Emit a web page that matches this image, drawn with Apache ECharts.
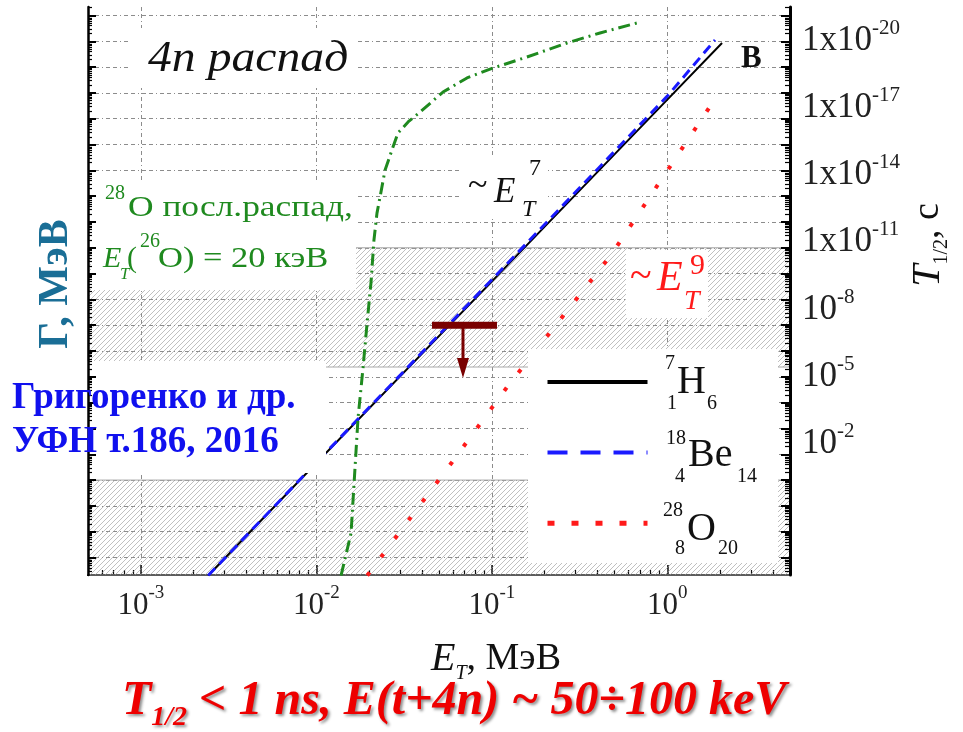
<!DOCTYPE html>
<html><head><meta charset="utf-8">
<script src="https://cdn.jsdelivr.net/npm/echarts@6/dist/echarts.min.js"></script>
<style>html,body{margin:0;padding:0;background:#fff}#c{width:963px;height:732px}</style>
</head><body><div id="c"></div>
<script>
// ---------- data ----------
const xTickValues = [1e-3, 1e-2, 1e-1, 1];              // E_T, MeV decades
const tLabelValues = [-20, -17, -14, -11, -8, -5, -2];  // log10 T1/2 (s) labels on right axis
// 7H (solid black)
const h7E = [0.00242, 0.01, 0.1, 1, 2.05];
const h7G = [2.0e-22, 4.6e-18, 5.0e-11, 5.5e-4, 0.086];
// 18Be (dashed blue)
const be18E = [0.00242, 0.01, 0.1, 1, 1.87];
const be18G = [2.0e-22, 4.8e-18, 5.8e-11, 7.5e-4, 0.112];
// 28O (dotted red)
const o28E = [0.0195, 0.0593, 0.1221, 0.4775, 1.87];
const o28G = [2.0e-22, 4.9e-18, 4.0e-15, 5.2e-10, 5.8e-4];
// 28O sequential decay (dash-dot green)
const seqE = [0.01383, 0.01577, 0.01728, 0.01845, 0.01946, 0.0205, 0.0213, 0.02216, 0.02306, 0.02462,
              0.02734, 0.0292, 0.03373, 0.03897, 0.05269, 0.07219, 0.1016, 0.1586, 0.268, 0.4135, 0.672];
const seqG = [2.0e-22, 8.7e-21, 2.5e-16, 2.2e-14, 1.2e-12, 4.7e-11, 2.0e-9, 2.2e-8, 9.2e-8, 1.0e-6,
              8.0e-6, 2.8e-5, 8.1e-5, 1.8e-4, 1.08e-3, 3.8e-3, 9.2e-3, 0.0246, 0.0859, 0.21, 0.512];
// upper limit marker
const limitE = [0.0456, 0.107];
const limitG = 1e-12;
const arrowE = 0.0685;
const arrowG = [1e-12, 2.2e-14];
// hatched (excluded) bands of Gamma
const band1 = [2.4e-14, 1e-9];
const band2 = [2.1e-22, 1e-18];

// ---------- axis ranges ----------
const xMin = 5e-4, xMax = 5;
const gMin = 2.1e-22, gMax = 2.13;
const tMin = -21.494, tMax = 3.843;

// tick positions (axis styling)
const majorG = []; for (let n = -21; n <= 0; n++) majorG.push(Math.pow(10, n));
const minorG = []; for (let n = -22; n <= 0; n++) for (let k = 2; k <= 9; k++) { const v = k * Math.pow(10, n); if (v > gMin && v < gMax) minorG.push(v); }
const minorX = []; for (let n = -4; n <= 0; n++) for (let k = 2; k <= 9; k++) { const v = k * Math.pow(10, n); if (v > xMin && v < xMax) minorX.push(v); }

const SERIF = 'Liberation Serif';
const pairs = (xs, ys) => xs.map((x, i) => [x, ys[i]]);

// hatch pattern
const hc = document.createElement('canvas'); hc.width = 5; hc.height = 5;
(function () { const g = hc.getContext('2d'); g.strokeStyle = 'rgba(150,150,150,0.6)'; g.lineWidth = 1;
  g.beginPath(); g.moveTo(0, 5); g.lineTo(5, 0); g.moveTo(-1, 1); g.lineTo(1, -1); g.moveTo(4, 6); g.lineTo(6, 4); g.stroke(); })();

function T(x, base, text, size, o) {
  o = o || {};
  return { type: 'text', z: 80, x: x, y: base - 0.305 * size, scaleX: o.sx || 1,
    style: { text: text, fontSize: size, fontFamily: SERIF, fontStyle: o.it ? 'italic' : 'normal',
      fontWeight: o.b ? 'bold' : 'normal', fill: o.c || '#111', align: 'left', verticalAlign: 'middle' } };
}
function R(x, y, w, h) { return { type: 'rect', z: 50, shape: { x: x, y: y, width: w, height: h }, style: { fill: '#fff' } }; }

const chart = echarts.init(document.getElementById('c'));
const GREEN = '#1f8a1f', RED = '#ff1a1a', BLUE = '#1a1aff', DRED = '#7a0000';
const gridStyle = { color: '#8c8c8c', width: 1, type: [4, 3, 4, 3, 1, 3] };

const option = {
  animation: false,
  grid: { left: 88, right: 173, top: 7, bottom: 157, containLabel: false, outerBoundsMode: 'none' },
  xAxis: [
    { type: 'log', logBase: 10, min: xMin, max: xMax, position: 'bottom',
      axisLine: { show: true, lineStyle: { color: '#111', width: 2 } },
      axisTick: { show: true, inside: true, length: 10, customValues: xTickValues, lineStyle: { color: '#111', width: 1.5 } },
      axisLabel: { show: true, customValues: xTickValues, margin: 9, color: '#222',
        formatter: v => '{b|10}{s|' + Math.round(Math.log10(v)) + '}',
        rich: { b: { fontSize: 31, fontFamily: SERIF, lineHeight: 44, color: '#222' },
                s: { fontSize: 19, fontFamily: SERIF, lineHeight: 18, verticalAlign: 'top', color: '#222' } } },
      splitLine: { show: true, lineStyle: gridStyle } },
    { type: 'log', logBase: 10, min: xMin, max: xMax, position: 'bottom',
      axisLine: { show: false }, axisLabel: { show: false }, splitLine: { show: false },
      axisTick: { show: true, inside: true, length: 5, customValues: minorX, lineStyle: { color: '#111', width: 1.2 } } },
    { type: 'log', logBase: 10, min: xMin, max: xMax, position: 'top',
      axisLine: { show: true, lineStyle: { color: '#111', width: 2 } }, axisTick: { show: false },
      axisLabel: { show: false }, splitLine: { show: false } }
  ],
  yAxis: [
    { type: 'log', logBase: 10, min: gMin, max: gMax, position: 'left',
      axisLine: { show: false }, axisLabel: { show: false },
      axisTick: { show: false, customValues: majorG },
      splitLine: { show: true, lineStyle: gridStyle } },
    { type: 'log', logBase: 10, min: gMin, max: gMax, position: 'left', z: 60,
      axisLine: { show: true, lineStyle: { color: '#000', width: 2.5 } }, axisLabel: { show: false }, splitLine: { show: false },
      axisTick: { show: true, inside: true, length: 8, customValues: majorG, lineStyle: { color: '#000', width: 2 } } },
    { type: 'log', logBase: 10, min: gMin, max: gMax, position: 'left', z: 60,
      axisLine: { show: false }, axisLabel: { show: false }, splitLine: { show: false },
      axisTick: { show: true, inside: true, length: 4, customValues: minorG, lineStyle: { color: '#000', width: 1.2 } } },
    { type: 'log', logBase: 10, min: gMin, max: gMax, position: 'right', z: 60,
      axisLine: { show: true, lineStyle: { color: '#000', width: 3 } }, axisLabel: { show: false }, splitLine: { show: false },
      axisTick: { show: true, inside: true, length: 9, customValues: majorG, lineStyle: { color: '#000', width: 2 } } },
    { type: 'log', logBase: 10, min: gMin, max: gMax, position: 'right', z: 60,
      axisLine: { show: false }, axisLabel: { show: false }, splitLine: { show: false },
      axisTick: { show: true, inside: true, length: 5, customValues: minorG, lineStyle: { color: '#000', width: 1.2 } } },
    { type: 'value', min: tMin, max: tMax, inverse: true, position: 'right',
      axisLine: { show: false }, axisTick: { show: false }, splitLine: { show: false },
      axisLabel: { show: true, customValues: tLabelValues, margin: 12, color: '#222',
        formatter: v => { const e = Math.round(v); return (e <= -11 ? '{b|1x10}' : '{b|10}') + '{s|' + e + '}'; },
        rich: { b: { fontSize: 35, fontFamily: SERIF, lineHeight: 46, color: '#222' },
                s: { fontSize: 21, fontFamily: SERIF, lineHeight: 18, verticalAlign: 'top', color: '#222' } } } }
  ],
  legend: {
    show: true, orient: 'vertical', left: 545, top: 375, padding: 0, itemWidth: 100, itemHeight: 14, itemGap: 58,
    selectedMode: false, z: 100, formatter: () => '', textStyle: { fontSize: 1 },
    itemStyle: { opacity: 0 },
    data: [
      { name: '7H6', lineStyle: { width: 4 } },
      { name: '18Be14', lineStyle: { width: 4, type: [20, 13] } },
      { name: '28O20', lineStyle: { width: 5, type: [7, 17] } }
    ]
  },
  series: [
    { name: '7H6', type: 'line', data: pairs(h7E, h7G), symbol: 'none', z: 3,
      lineStyle: { color: '#000', width: 2 }, itemStyle: { color: '#000' },
      markArea: { silent: true, itemStyle: { color: { image: hc, repeat: 'repeat' }, borderColor: '#a8a8a8', borderWidth: 1 },
        data: [[{ yAxis: band1[0] }, { yAxis: band1[1] }], [{ yAxis: band2[0] }, { yAxis: band2[1] }]] } },
    { name: '18Be14', type: 'line', data: pairs(be18E, be18G), symbol: 'none', z: 4,
      lineStyle: { color: BLUE, width: 3, type: [10, 6] }, itemStyle: { color: BLUE } },
    { name: '28O20', type: 'line', data: pairs(o28E, o28G), symbol: 'none', z: 4,
      lineStyle: { color: RED, width: 4, type: [4, 19] }, itemStyle: { color: RED } },
    { name: 'seq', type: 'line', data: pairs(seqE, seqG), symbol: 'none', z: 4,
      lineStyle: { color: GREEN, width: 3, type: [12, 5, 2, 5] }, itemStyle: { color: GREEN } },
    { name: 'limit', type: 'line', data: limitE.map(e => [e, limitG]), symbol: 'none', z: 5,
      lineStyle: { color: DRED, width: 7 }, itemStyle: { color: DRED } },
    { name: 'arrow', type: 'line', symbol: 'triangle', showSymbol: true, z: 5,
      data: [{ value: [arrowE, arrowG[0]], symbolSize: 0 }, { value: [arrowE, arrowG[1]], symbolSize: [12, 20], symbolRotate: 180 }],
      lineStyle: { color: DRED, width: 3 }, itemStyle: { color: DRED } }
  ],
  graphic: [
    R(130, 28, 228, 60), R(91, 180, 265, 110), R(462, 155, 86, 62), R(626, 250, 82, 68),
    R(0, 361, 326, 112), R(528, 349, 250, 214),
    T(148, 73, '4n распад', 45, { it: true, sx: 1.06 }),
    T(105, 200, '28', 20, { c: GREEN }), T(128, 217, 'O посл.распад,', 30, { c: GREEN, sx: 1.18 }),
    T(103, 268, 'E', 30, { c: GREEN, it: true }), T(120, 280, 'T', 17, { c: GREEN, it: true }),
    T(127, 268, '(', 30, { c: GREEN }), T(140, 248, '26', 20, { c: GREEN }),
    T(158, 268, 'O) = 20 кэВ', 30, { c: GREEN, sx: 1.15 }),
    T(468, 198, '~', 36), T(494, 203, 'E', 35, { it: true }), T(529, 176, '7', 24), T(522, 217, 'T', 24, { it: true }),
    T(630, 290, '~', 40, { c: RED }), T(657, 292, 'E', 42, { c: RED, it: true }), T(690, 275, '9', 30, { c: RED }), T(684, 310, 'T', 28, { c: RED, it: true }),
    T(741, 68, 'B', 31, { b: true }),
    T(12, 410, 'Григоренко и др.', 37, { c: '#1010ee', b: true }),
    T(12, 454, 'УФН т.186, 2016', 37, { c: '#1010ee', b: true }),
    T(665, 370, '7', 20), T(677, 395, 'H', 40), T(667, 410, '1', 20), T(707, 410, '6', 20),
    T(666, 445, '18', 20), T(688, 468, 'Be', 40), T(675, 483, '4', 20), T(737, 483, '14', 20),
    T(663, 517, '28', 20), T(687, 542, 'O', 40), T(675, 555, '8', 20), T(718, 555, '20', 20),
    { type: 'text', z: 80, x: 56, y: 284, rotation: Math.PI / 2,
      style: { text: 'Г, МэВ', fontSize: 42, fontFamily: SERIF, fontWeight: 'bold', fill: '#1a6e96', align: 'center', verticalAlign: 'middle' } },
    { type: 'text', z: 80, x: 928, y: 245, rotation: Math.PI / 2,
      style: { text: '{a|T}{s|1/2}{n|, c}', align: 'center', verticalAlign: 'middle',
        rich: { a: { fontSize: 40, fontFamily: SERIF, fontStyle: 'italic', lineHeight: 48, fill: '#111' },
                n: { fontSize: 38, fontFamily: SERIF, lineHeight: 48, fill: '#111' },
                s: { fontSize: 20, fontFamily: SERIF, lineHeight: 20, verticalAlign: 'bottom', fill: '#111' } } } },
    { type: 'text', z: 80, x: 431, y: 634,
      style: { text: '{e|E}{t|T}{m|, МэВ}', align: 'left', verticalAlign: 'top',
        rich: { e: { fontSize: 40, fontFamily: SERIF, fontStyle: 'italic', lineHeight: 50, fill: '#111' },
                t: { fontSize: 20, fontFamily: SERIF, fontStyle: 'italic', lineHeight: 20, verticalAlign: 'bottom', fill: '#111' },
                m: { fontSize: 38, fontFamily: SERIF, lineHeight: 50, fill: '#111' } } } },
    { type: 'text', z: 80, x: 122, y: 672,
      style: { text: '{t|T}{s|1/2}{t| < 1 ns, E(t+4n) ~ 50÷100 keV}', align: 'left', verticalAlign: 'top',
        textShadowColor: 'rgba(0,0,0,0.45)', textShadowBlur: 3, textShadowOffsetX: 2, textShadowOffsetY: 2,
        rich: { t: { fontSize: 48, fontFamily: SERIF, fontStyle: 'italic', fontWeight: 'bold', lineHeight: 60, fill: '#ee0000',
                     textShadowColor: 'rgba(0,0,0,0.45)', textShadowBlur: 3, textShadowOffsetX: 2, textShadowOffsetY: 2 },
                s: { fontSize: 28, fontFamily: SERIF, fontStyle: 'italic', fontWeight: 'bold', lineHeight: 28, verticalAlign: 'bottom', fill: '#ee0000',
                     textShadowColor: 'rgba(0,0,0,0.45)', textShadowBlur: 3, textShadowOffsetX: 2, textShadowOffsetY: 2 } } } }
  ]
};
chart.setOption(option);
</script></body></html>
